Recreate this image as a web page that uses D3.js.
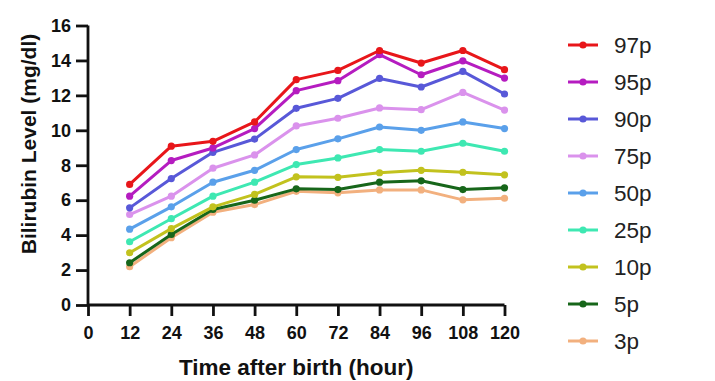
<!DOCTYPE html>
<html>
<head>
<meta charset="utf-8">
<script src="https://cdn.jsdelivr.net/npm/d3@7"></script>
<style>
  body { margin: 0; background: #fff; }
  svg { font-family: Arial, "Liberation Sans", sans-serif; }
</style>
</head>
<body>
<svg id="chart" width="715" height="381"></svg>
<script>
// hours after birth
const hours = [12, 24, 36, 48, 60, 72, 84, 96, 108, 120];
const xTicks = [0, 12, 24, 36, 48, 60, 72, 84, 96, 108, 120];
const yTicks = [0, 2, 4, 6, 8, 10, 12, 14, 16];

// percentile curves, bilirubin mg/dl
const p97 = [6.9, 9.09, 9.37, 10.48, 12.9, 13.43, 14.57, 13.85, 14.57, 13.47];
const p95 = [6.23, 8.27, 8.99, 10.1, 12.27, 12.84, 14.33, 13.18, 13.98, 12.99];
const p90 = [5.56, 7.24, 8.74, 9.5, 11.26, 11.83, 12.97, 12.48, 13.37, 12.08];
const p75 = [5.18, 6.23, 7.83, 8.59, 10.25, 10.69, 11.28, 11.18, 12.17, 11.16];
const p50 = [4.34, 5.62, 7.03, 7.71, 8.9, 9.51, 10.19, 10.0, 10.48, 10.1];
const p25 = [3.62, 4.94, 6.23, 7.03, 8.04, 8.42, 8.9, 8.8, 9.26, 8.8];
const p10 = [2.99, 4.37, 5.62, 6.33, 7.34, 7.31, 7.57, 7.71, 7.6, 7.45];
const p5 = [2.42, 4.04, 5.47, 6.0, 6.65, 6.61, 7.03, 7.11, 6.61, 6.71];
const p3 = [2.19, 3.85, 5.31, 5.75, 6.51, 6.42, 6.59, 6.59, 6.02, 6.11];

const seriesNames = ['97p', '95p', '90p', '75p', '50p', '25p', '10p', '5p', '3p'];
const seriesValues = [p97, p95, p90, p75, p50, p25, p10, p5, p3];
const seriesColors = ['#e8161a', '#b51cc0', '#5858d8', '#da92ec', '#5aa0ea', '#3ee8b2', '#c2c21e', '#17661a', '#f2b07e'];

const series = seriesNames.map((name, i) => ({
  name, color: seriesColors[i],
  points: hours.map((h, j) => ({ h, v: seriesValues[i][j] }))
}));

const svg = d3.select('#chart');

const x = d3.scaleLinear().domain([0, 120]).range([88, 504.5]);
const y = d3.scaleLinear().domain([0, 16]).range([305, 25.5]);

// axes
const xAxis = svg.append('g')
  .attr('transform', `translate(0,${y(0)})`)
  .call(d3.axisBottom(x).tickValues(xTicks).tickSize(11).tickPadding(10));
const yAxis = svg.append('g')
  .attr('transform', `translate(${x(0)},0)`)
  .call(d3.axisLeft(y).tickValues(yTicks).tickSize(12).tickPadding(5));

[xAxis, yAxis].forEach(a => {
  a.select('.domain').attr('stroke', '#111').attr('stroke-width', 2.8);
  a.selectAll('.tick line').attr('stroke', '#111').attr('stroke-width', 2.8);
  a.selectAll('.tick text')
    .attr('fill', '#111')
    .style('font-size', '18px')
    .style('font-weight', 'bold')
    .style('font-family', 'Arial, "Liberation Sans", sans-serif');
});
xAxis.select('.domain').attr('d', `M${x(0)},0H${x(120)}`);
yAxis.select('.domain').attr('d', `M0,${y(16)}V${y(0)}`);

// axis titles
svg.append('text')
  .attr('x', (x(0) + x(120)) / 2)
  .attr('y', 375)
  .attr('text-anchor', 'middle')
  .attr('fill', '#111')
  .style('font-size', '22.5px')
  .style('font-weight', 'bold')
  .text('Time after birth (hour)');

svg.append('text')
  .attr('transform', 'translate(36,144) rotate(-90)')
  .attr('text-anchor', 'middle')
  .attr('fill', '#111')
  .style('font-size', '21px')
  .style('font-weight', 'bold')
  .text('Bilirubin Level (mg/dl)');

// lines and markers, lowest percentile drawn first
const line = d3.line().x(d => x(d.h)).y(d => y(d.v));
const groups = svg.append('g')
  .selectAll('g')
  .data(series.slice().reverse())
  .join('g');

groups.append('path')
  .attr('d', d => line(d.points))
  .attr('fill', 'none')
  .attr('stroke', d => d.color)
  .attr('stroke-width', 3)
  .attr('stroke-linejoin', 'round');

groups.selectAll('circle')
  .data(d => d.points.map(p => ({ ...p, color: d.color })))
  .join('circle')
  .attr('cx', d => x(d.h))
  .attr('cy', d => y(d.v))
  .attr('r', 3.6)
  .attr('fill', d => d.color);

// legend
const legend = svg.append('g')
  .selectAll('g')
  .data(series)
  .join('g')
  .attr('transform', (d, i) => `translate(568,${45 + i * 37})`);

legend.append('line')
  .attr('x1', 0).attr('x2', 30)
  .attr('stroke', d => d.color)
  .attr('stroke-width', 3);
legend.append('circle')
  .attr('cx', 15).attr('r', 3.6)
  .attr('fill', d => d.color);
legend.append('text')
  .attr('x', 46)
  .attr('dy', '0.35em')
  .attr('fill', '#222')
  .style('font-size', '22.5px')
  .text(d => d.name);
</script>
</body>
</html>
